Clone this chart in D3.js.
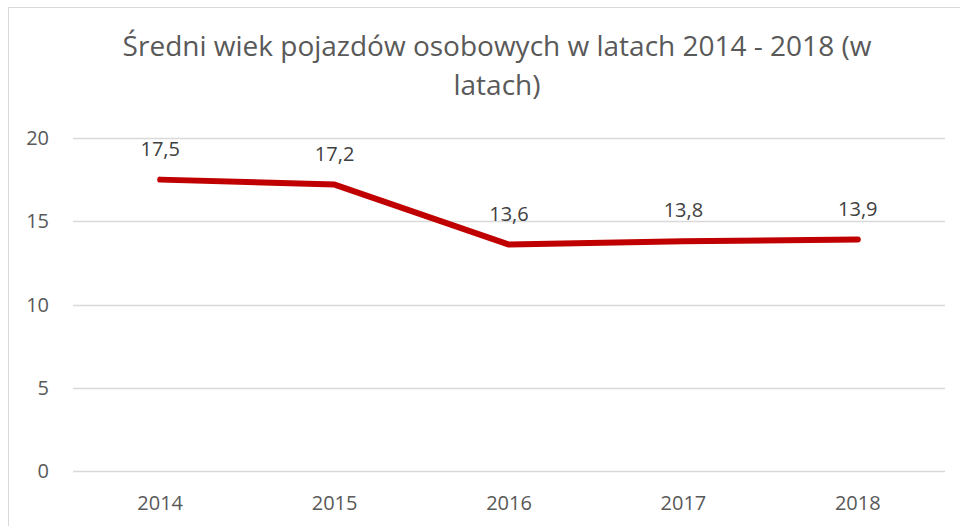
<!DOCTYPE html>
<html>
<head>
<meta charset="utf-8">
<script src="https://cdn.jsdelivr.net/npm/d3@7"></script>
<style>
  html, body { margin: 0; padding: 0; background: #fff; }
  svg { display: block; font-family: "Open Sans", "Noto Sans", sans-serif; }
</style>
</head>
<body>
<div id="chart"></div>
<script>
// chart data
const years = ["2014", "2015", "2016", "2017", "2018"];
const avgAge = [17.5, 17.2, 13.6, 13.8, 13.9];
const yTicks = [0, 5, 10, 15, 20];
const titleLines = ["Średni wiek pojazdów osobowych w latach 2014 - 2018 (w", "latach)"];

const width = 960, height = 526;
const margin = { top: 138, right: 15, bottom: 55, left: 73 };

const svg = d3.select("#chart").append("svg")
  .attr("width", width)
  .attr("height", height);

// chart frame
svg.append("rect")
  .attr("x", 8.5).attr("y", 7.5)
  .attr("width", width + 20).attr("height", height + 20)
  .attr("fill", "none")
  .attr("stroke", "#d9d9d9");

const x = d3.scaleBand()
  .domain(years)
  .range([margin.left, width - margin.right]);

const y = d3.scaleLinear()
  .domain([0, 20])
  .range([height - margin.bottom, margin.top]);

// gridlines
svg.append("g")
  .selectAll("line")
  .data(yTicks)
  .join("line")
  .attr("x1", margin.left)
  .attr("x2", width - margin.right)
  .attr("y1", d => Math.round(y(d)) + 0.5)
  .attr("y2", d => Math.round(y(d)) + 0.5)
  .attr("stroke", "#d9d9d9")
  .attr("stroke-width", 1.3);

// y axis labels
svg.append("g")
  .selectAll("text")
  .data(yTicks)
  .join("text")
  .attr("x", 49)
  .attr("y", d => y(d))
  .attr("dy", "0.35em")
  .attr("text-anchor", "end")
  .attr("fill", "#595959")
  .style("font-size", "20px")
  .text(d => d);

// x axis labels
svg.append("g")
  .selectAll("text")
  .data(years)
  .join("text")
  .attr("x", d => x(d) + x.bandwidth() / 2)
  .attr("y", 510)
  .attr("text-anchor", "middle")
  .attr("fill", "#595959")
  .style("font-size", "20px")
  .text(d => d);

// line
const line = d3.line()
  .x((d, i) => x(years[i]) + x.bandwidth() / 2)
  .y(d => y(d));

svg.append("path")
  .datum(avgAge)
  .attr("d", line)
  .attr("fill", "none")
  .attr("stroke", "#c00000")
  .attr("stroke-width", 6)
  .attr("stroke-linecap", "round")
  .attr("stroke-linejoin", "round");

// data labels
svg.append("g")
  .selectAll("text")
  .data(avgAge)
  .join("text")
  .attr("x", (d, i) => x(years[i]) + x.bandwidth() / 2)
  .attr("y", d => y(d) - 24)
  .attr("text-anchor", "middle")
  .attr("fill", "#404040")
  .style("font-size", "20px")
  .text(d => d3.format(".1f")(d).replace(".", ","));

// title, one text per line
svg.append("g")
  .selectAll("text")
  .data(titleLines)
  .join("text")
  .attr("x", width / 2 + 17)
  .attr("y", (d, i) => 56 + i * 39)
  .attr("text-anchor", "middle")
  .attr("fill", "#595959")
  .style("font-size", "28px")
  .text(d => d);
</script>
</body>
</html>
